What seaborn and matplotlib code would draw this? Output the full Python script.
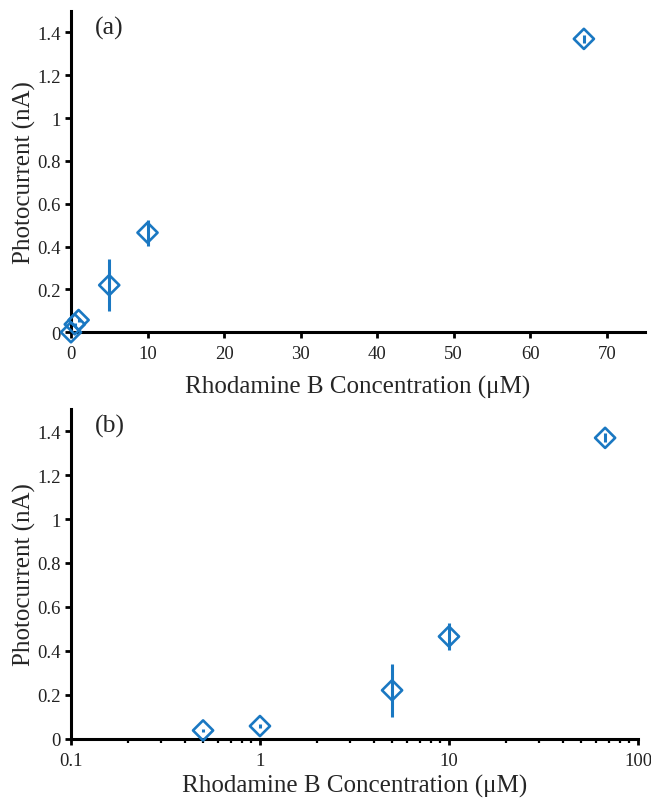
import seaborn as sns
import numpy as np
import matplotlib.pyplot as plt
from matplotlib.ticker import LogLocator, NullFormatter

# measured data
conc = [0, 0.5, 1, 5, 10, 67]
current = [0.0, 0.037, 0.057, 0.22, 0.465, 1.37]
err = [0.005, 0.008, 0.01, 0.12, 0.06, 0.02]

y_ticks = [0, 0.2, 0.4, 0.6, 0.8, 1.0, 1.2, 1.4]
y_labels = ['0', '0.2', '0.4', '0.6', '0.8', '1', '1.2', '1.4']
xa_ticks = [0, 10, 20, 30, 40, 50, 60, 70]
xb_ticks = [0.1, 1, 10, 100]
xb_labels = ['0.1', '1', '10', '100']

blue = '#1a78c2'

sns.set_theme(style='white')
plt.rcParams['font.family'] = ['Liberation Serif', 'DejaVu Serif']

fig = plt.figure(figsize=(6.51, 8.03), dpi=100)
ax1 = fig.add_axes([0.109, 0.585, 0.882, 0.400])
ax2 = fig.add_axes([0.109, 0.079, 0.871, 0.410])


def draw(ax, xs, ys, es, xpad):
    ax.errorbar(xs, ys, yerr=es, fmt='none', ecolor=blue, elinewidth=2.2, capsize=0,
                zorder=2, clip_on=False)
    sns.scatterplot(x=xs, y=ys, ax=ax, marker='D', s=105, facecolor='none',
                    edgecolor=blue, linewidth=1.9, zorder=3, legend=False, clip_on=False)
    for side in ['top', 'right']:
        ax.spines[side].set_visible(False)
    for side in ['left', 'bottom']:
        ax.spines[side].set_color('black')
        ax.spines[side].set_linewidth(2.2)
    ax.set_ylim(0, 1.5)
    ax.set_yticks(y_ticks)
    ax.set_yticklabels(y_labels)
    ax.tick_params(axis='both', which='major', direction='out', length=4.5, width=2,
                   color='black', labelcolor='#222222', pad=3,
                   bottom=True, left=True)
    ax.tick_params(axis='y', labelsize=13.5)
    ax.tick_params(axis='x', labelsize=13.5, pad=5)
    ax.set_ylabel('Photocurrent (nA)', fontsize=18, labelpad=1)
    ax.set_xlabel('Rhodamine B Concentration (\u03bcM)', fontsize=18, labelpad=xpad)
    ax.grid(False)


draw(ax1, conc, current, err, 9)
ax1.set_xlim(0, 75)
ax1.set_xticks(xa_ticks)
ax1.text(0.042, 0.95, '(a)', transform=ax1.transAxes, fontsize=18.5, va='center')

draw(ax2, conc[1:], current[1:], err[1:], 4)
ax2.set_xscale('log')
ax2.set_xlim(0.1, 100)
ax2.set_xticks(xb_ticks)
ax2.set_xticklabels(xb_labels)
ax2.xaxis.set_minor_locator(LogLocator(base=10, subs=np.arange(2, 10)))
ax2.xaxis.set_minor_formatter(NullFormatter())
ax2.tick_params(axis='x', which='minor', direction='out', length=3, width=1.6,
                color='black', bottom=True)
ax2.text(0.042, 0.95, '(b)', transform=ax2.transAxes, fontsize=18.5, va='center')

fig.savefig('out.png', dpi=100)
